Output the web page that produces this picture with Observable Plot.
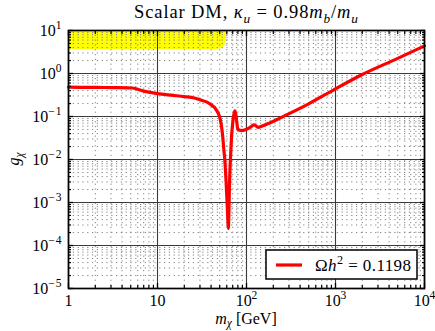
<!DOCTYPE html>
<html><head><meta charset="utf-8">
<script src="https://cdn.jsdelivr.net/npm/d3@7"></script>
<script src="https://cdn.jsdelivr.net/npm/@observablehq/plot@0.6"></script>
<style>body{margin:0;background:#fff} svg{display:block}</style>
</head><body><div id="chart"></div>
<script>
// Relic-density curve (Omega h^2 = 0.1198)
const massGeV  = [1, 2, 3, 4.7, 5.2, 7, 10, 15, 20, 26, 30, 36, 41, 45, 48, 50, 52, 54, 55.5, 57, 59, 60.5, 61.7, 62.5, 63.3, 64, 65, 66.5, 68, 70, 72, 74, 76, 78, 80, 88, 97, 105, 113, 120, 126, 135, 150, 180, 240, 500, 1000, 2000, 5000, 10000];
const coupling = [0.48, 0.475, 0.47, 0.465, 0.46, 0.39, 0.34, 0.31, 0.29, 0.27, 0.245, 0.215, 0.18, 0.15, 0.12, 0.096, 0.065, 0.035, 0.018, 0.01, 0.003, 0.001, 0.0004, 0.00025, 0.0005, 0.0015, 0.005, 0.014, 0.035, 0.07, 0.11, 0.135, 0.11, 0.07, 0.05, 0.047, 0.049, 0.053, 0.058, 0.064, 0.062, 0.056, 0.06, 0.07, 0.093, 0.197, 0.44, 0.95, 2.25, 4.4];
// Excluded (yellow) region: from lower boundary up to top of plot
const yellowMass  = [1, 47.2, 51.7, 55.7, 58.5, 59.6, 59.6];
const yellowLower = [3.6, 3.6, 3.75, 4.15, 4.9, 5.85, 10];
const yellowUpper = 10;
// Ticks
const xMajor = [1, 10, 100, 1000, 10000];
const xLabels = ["1", "10", "10^2", "10^3", "10^4"];
const yMajor = [1e-5, 1e-4, 1e-3, 1e-2, 1e-1, 1, 10];
const yLabels = ["10^−5", "10^−4", "10^−3", "10^−2", "10^−1", "10^0", "10^1"];
const legendLabel = [{t: "Ω"}, {t: "h", i: true}, {t: "2", s: "sup"}, {t: " = 0.1198"}];
const titleParts = [{t: "Scalar DM, "}, {t: "κ", i: true}, {t: "u", i: true, s: "sub"}, {t: " = 0.98"}, {t: "m", i: true}, {t: "b", i: true, s: "sub"}, {t: "/"}, {t: "m", i: true}, {t: "u", i: true, s: "sub"}];
const xTitle = [{t: "m", i: true}, {t: "χ", i: true, s: "sub"}, {t: " [GeV]"}];
const yTitle = [{t: "g", i: true}, {t: "χ", i: true, s: "sub"}];

function minorTicks(major) {
  const out = [];
  for (let j = 0; j < major.length - 1; j++) for (let k = 2; k <= 9; k++) out.push(major[j] * k);
  return out;
}
const xMinor = minorTicks(xMajor);
const yMinor = minorTicks(yMajor);

const curve = massGeV.map((m, i) => ({m, g: coupling[i]}));
const yellow = yellowMass.map((m, i) => ({m, lo: yellowLower[i]}));

const FS = 16;
const fmtX = new Map(xMajor.map((v, i) => [v, xLabels[i]]));
const fmtY = new Map(yMajor.map((v, i) => [v, yLabels[i]]));
const blank = () => "";

const plot = Plot.plot({
  width: 435, height: 331,
  marginLeft: 68, marginRight: 11, marginTop: 30, marginBottom: 43,
  style: {fontFamily: "Liberation Serif", fontSize: FS + "px", background: "white", color: "black"},
  x: {type: "log", domain: [1, 1e4]},
  y: {type: "log", domain: [1e-5, 10]},
  marks: [
    Plot.areaY(yellow, {x: "m", y1: "lo", y2: yellowUpper, fill: "#ffff00"}),
    Plot.ruleX(xMinor, {stroke: "#808080", strokeWidth: 1, strokeDasharray: "1.2,3.6"}),
    Plot.ruleY(yMinor, {stroke: "#808080", strokeWidth: 1, strokeDasharray: "1.2,3.6"}),
    Plot.ruleX(xMajor, {stroke: "#3a3a3a", strokeWidth: 1.1}),
    Plot.ruleY(yMajor, {stroke: "#3a3a3a", strokeWidth: 1.1}),
    Plot.line(curve, {x: "m", y: "g", stroke: "#ff0000", strokeWidth: 3.2, strokeLinejoin: "round", curve: "monotone-x"}),
    Plot.frame({stroke: "black", strokeWidth: 1.7}),
    Plot.axisX({anchor: "bottom", ticks: xMajor, tickSize: 0, tickPadding: 6, tickFormat: d => fmtX.get(d) ?? "", label: null, fontSize: FS}),
    Plot.axisY({anchor: "left", ticks: yMajor, tickSize: 0, tickPadding: 6, tickFormat: d => fmtY.get(d) ?? "", label: null, fontSize: FS}),
    Plot.axisX({anchor: "bottom", ticks: xMajor, tickSize: -5, strokeWidth: 1.3, tickFormat: blank, label: null}),
    Plot.axisX({anchor: "top", ticks: xMajor, tickSize: -5, strokeWidth: 1.3, tickFormat: blank, label: null}),
    Plot.axisX({anchor: "bottom", ticks: xMinor, tickSize: -3, strokeWidth: 1.2, tickFormat: blank, label: null}),
    Plot.axisX({anchor: "top", ticks: xMinor, tickSize: -3, strokeWidth: 1.2, tickFormat: blank, label: null}),
    Plot.axisY({anchor: "left", ticks: yMajor, tickSize: -5, strokeWidth: 1.3, tickFormat: blank, label: null}),
    Plot.axisY({anchor: "right", ticks: yMajor, tickSize: -5, strokeWidth: 1.3, tickFormat: blank, label: null}),
    Plot.axisY({anchor: "left", ticks: yMinor, tickSize: -3, strokeWidth: 1.2, tickFormat: blank, label: null}),
    Plot.axisY({anchor: "right", ticks: yMinor, tickSize: -3, strokeWidth: 1.2, tickFormat: blank, label: null})
  ]
});

function rich(sel, parts, size, subShift = 0.28) {
  let shift = 0;
  for (const p of parts) {
    const target = p.s === "sub" ? size * subShift : p.s === "sup" ? -size * 0.42 : 0;
    const ts = sel.append("tspan").text(p.t);
    if (target - shift !== 0) ts.attr("dy", target - shift);
    shift = target;
    if (p.s) ts.attr("font-size", size * 0.72);
    if (p.i) ts.attr("font-style", "italic");
  }
}
function parseLabel(str) {
  const [base, exp] = str.split("^");
  return exp === undefined ? [{t: base}] : [{t: base}, {t: exp, s: "sup"}];
}

const svg = d3.select(plot);
svg.selectAll('g[aria-label="x-axis tick label"] text, g[aria-label="y-axis tick label"] text').each(function() {
  const s = this.textContent;
  if (!s) return;
  this.textContent = "";
  rich(d3.select(this), parseLabel(s), FS);
});
svg.selectAll('g[aria-label="y-axis tick label"] text tspan:nth-child(2)').attr("letter-spacing", 1);

const [x0, x1] = plot.scale("x").range;
const [yb, yt] = plot.scale("y").range;
const cx = (x0 + x1) / 2;
const cy = (yb + yt) / 2;

const t = svg.append("text").attr("x", cx).attr("y", 18).attr("text-anchor", "middle").attr("font-size", 18.5)
  .attr("textLength", 224).attr("lengthAdjust", "spacing");
rich(t, titleParts, 18.5);
const xl = svg.append("text").attr("x", cx).attr("y", 324).attr("text-anchor", "middle").attr("font-size", FS);
rich(xl, xTitle, FS, 0.2);
const yl = svg.append("text").attr("transform", `translate(19,${cy}) rotate(-90)`).attr("text-anchor", "middle").attr("font-size", FS);
rich(yl, yTitle, FS);

const lg = svg.append("g");
lg.append("rect").attr("x", x1 - 158).attr("y", yb - 38).attr("width", 151).attr("height", 29)
  .attr("fill", "white").attr("stroke", "black").attr("stroke-width", 1.5);
lg.append("line").attr("x1", x1 - 148).attr("x2", x1 - 122).attr("y1", yb - 23).attr("y2", yb - 23)
  .attr("stroke", "#ff0000").attr("stroke-width", 3.2);
const lt = lg.append("text").attr("x", x1 - 109).attr("y", yb - 17).attr("font-size", 17)
  .attr("text-anchor", "start").attr("textLength", 96).attr("lengthAdjust", "spacing");
rich(lt, legendLabel, 17);

document.getElementById("chart").append(plot);
</script>
</body></html>
